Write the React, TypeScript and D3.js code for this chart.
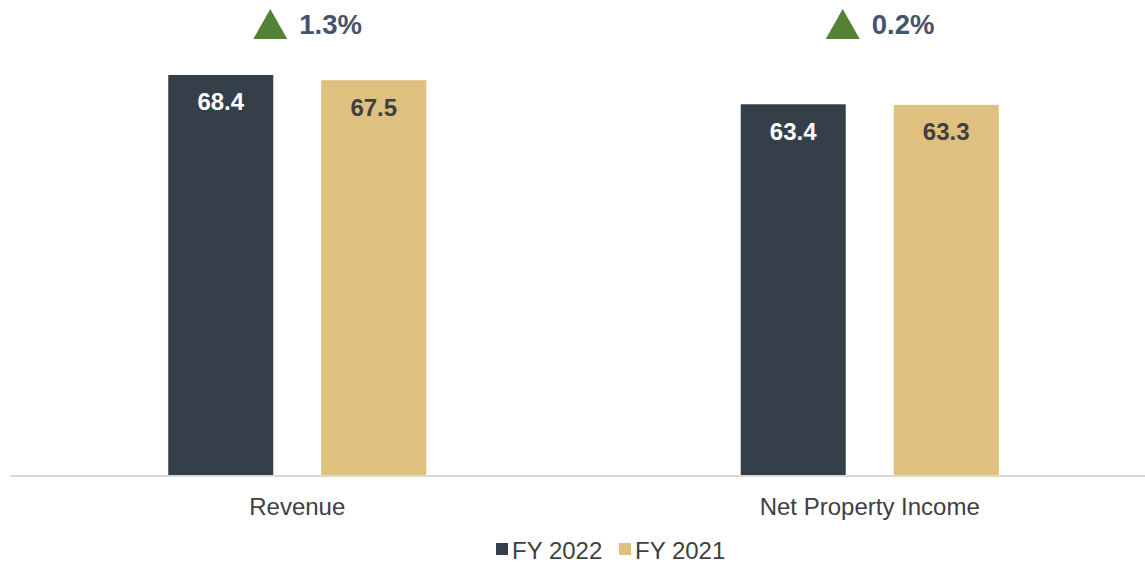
import React from "react";
import * as d3 from "d3";

const categories = ["Revenue", "Net Property Income"];
const seriesNames = ["FY 2022", "FY 2021"];
const fy2022 = [68.4, 63.4];
const fy2021 = [67.5, 63.3];
const changeLabels = ["1.3%", "0.2%"];

const W = 1145;
const H = 563;
const FONT = "Arial, 'Liberation Sans', sans-serif";
const colors = ["#353f4a", "#dfc07f"];
const labelColors = ["#ffffff", "#404040"];

export default function App() {
  const baseline = 476;
  const y = d3.scaleLinear().domain([0, 80]).range([baseline, baseline - 80 * 5.863]);
  const x0 = d3
    .scaleBand<string>()
    .domain(categories)
    .range([11, 1156])
    .paddingInner(0.5493)
    .paddingOuter(0.2747);
  const x1 = d3
    .scaleBand<string>()
    .domain(seriesNames)
    .range([0, x0.bandwidth()])
    .paddingInner(0.3137);
  const seriesValues = [fy2022, fy2021];

  return (
    <svg
      width={W}
      height={H}
      style={{ position: "absolute", left: 0, top: 0, background: "#fff" }}
      fontFamily={FONT}
    >
      {categories.map((c, i) => (
        <g key={c} transform={`translate(${x0(c)},0)`}>
          {seriesNames.map((s, j) => {
            const v = seriesValues[j][i];
            const bx = x1(s)!;
            return (
              <g key={s}>
                <rect
                  x={bx}
                  y={y(v)}
                  width={x1.bandwidth()}
                  height={y(0) - y(v)}
                  fill={colors[j]}
                />
                <text
                  x={bx + x1.bandwidth() / 2}
                  y={y(v) + 27}
                  textAnchor="middle"
                  dominantBaseline="central"
                  fontSize={24}
                  fontWeight="bold"
                  fill={labelColors[j]}
                >
                  {v.toFixed(1)}
                </text>
              </g>
            );
          })}
        </g>
      ))}
      <line x1={10} x2={W} y1={baseline} y2={baseline} stroke="#d9d9d9" strokeWidth={2} />
      {categories.map((c) => (
        <text
          key={c}
          x={x0(c)! + x0.bandwidth() / 2}
          y={506}
          textAnchor="middle"
          dominantBaseline="central"
          fontSize={24}
          fill="#404040"
        >
          {c}
        </text>
      ))}
      {categories.map((c, i) => {
        const cx = x0(c)! + x0.bandwidth() / 2;
        const tx = cx - 27;
        return (
          <g key={"chg" + c}>
            <path
              d={`M${tx - 17},39 L${tx},9 L${tx + 17},39 Z`}
              fill="#548235"
            />
            <text
              x={tx + 29}
              y={24}
              dominantBaseline="central"
              fontSize={27.5}
              fontWeight="bold"
              fill="#44546a"
            >
              {changeLabels[i]}
            </text>
          </g>
        );
      })}
      {seriesNames.map((s, j) => {
        const lx = j === 0 ? 496 : 619;
        return (
          <g key={"leg" + s}>
            <rect x={lx} y={543} width={12} height={12} fill={colors[j]} />
            <text
              x={lx + 16}
              y={550}
              dominantBaseline="central"
              fontSize={24}
              fill="#404040"
            >
              {s}
            </text>
          </g>
        );
      })}
    </svg>
  );
}
